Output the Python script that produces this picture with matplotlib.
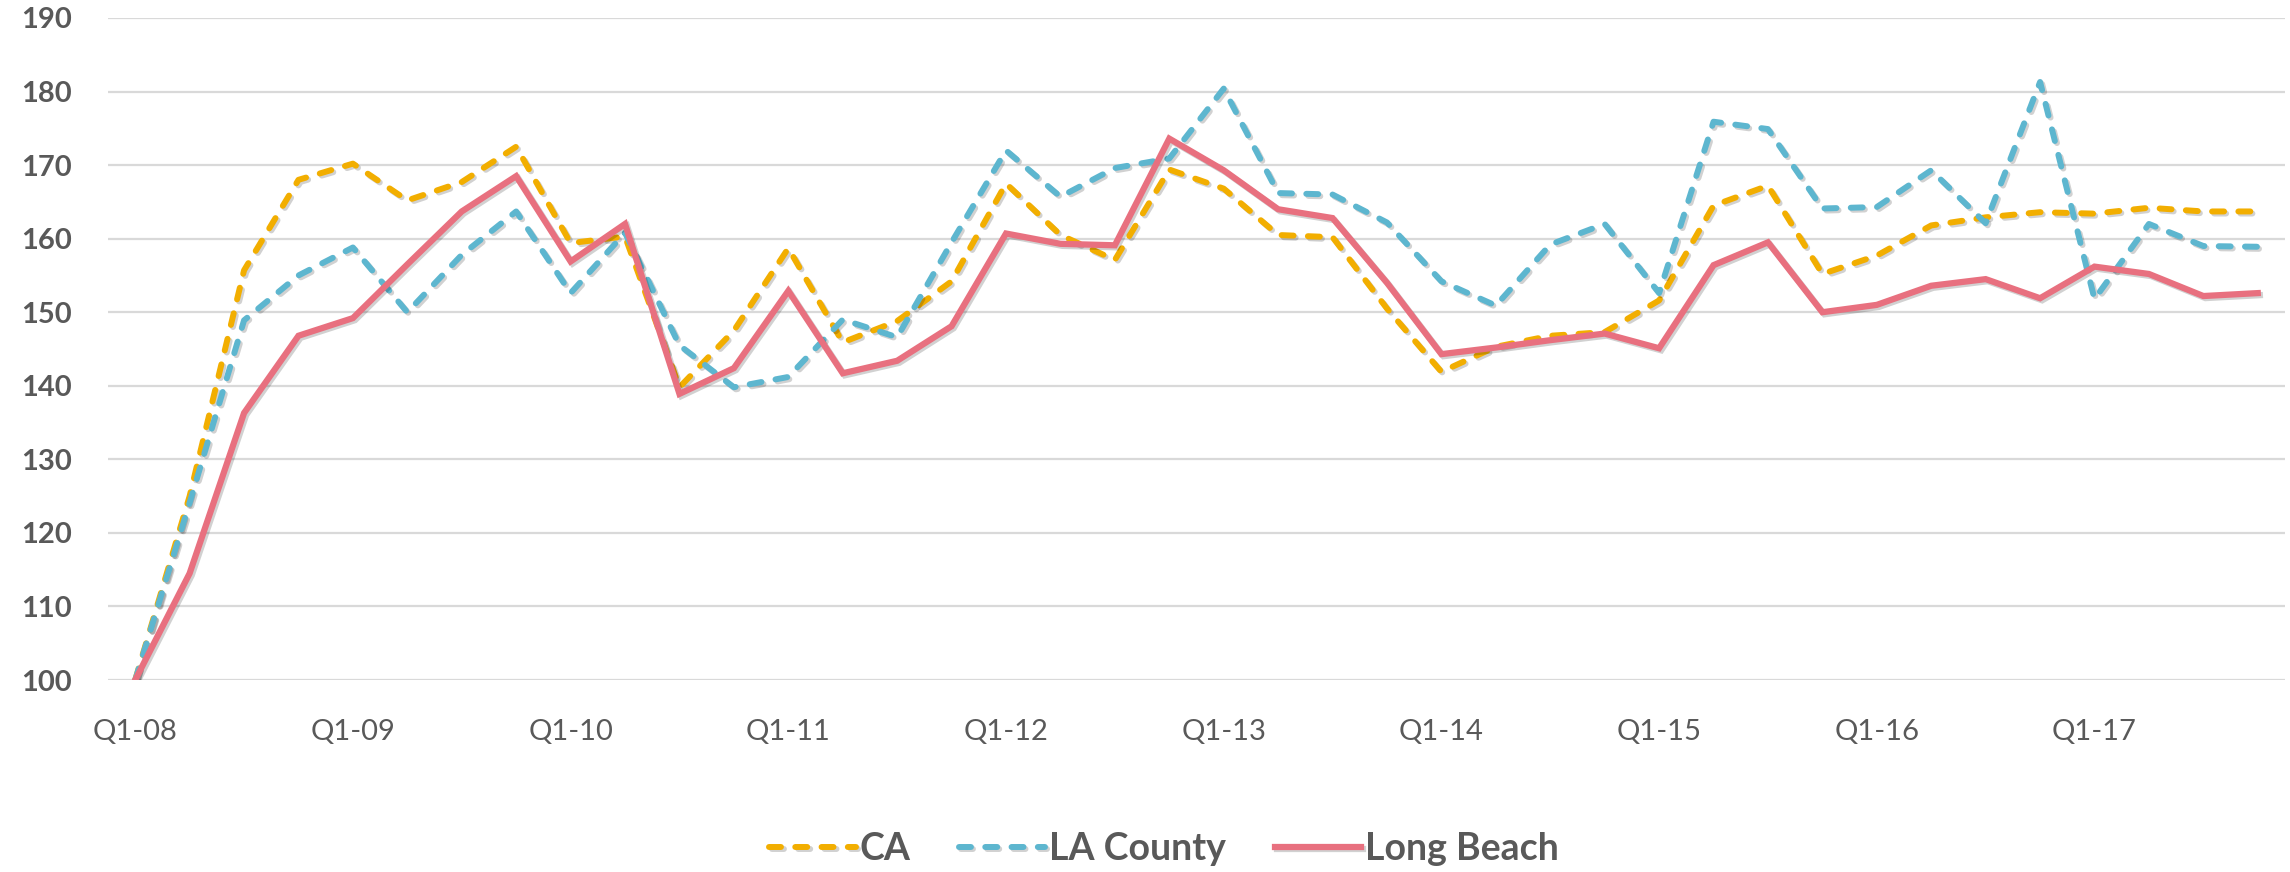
import matplotlib
matplotlib.use("Agg")
import matplotlib.pyplot as plt
import matplotlib.patheffects as pe

quarters = [f"Q{q}-{y:02d}" for y in range(8, 18) for q in range(1, 5)]
tick_labels = [f"Q1-{y:02d}" for y in range(8, 18)]

ca = [100, 125, 155.7, 168.0, 170.2, 165.2, 167.7, 172.5, 159.4, 160.3,
      139.8, 147.5, 158.7, 145.9, 148.8, 154.2, 167.5, 160.5, 157.1, 169.4,
      166.8, 160.5, 160.2, 150.5, 141.9, 145.3, 146.8, 147.3, 151.6, 164.5,
      167.2, 155.2, 157.7, 161.8, 162.9, 163.6, 163.4, 164.2, 163.7, 163.7]
la_county = [100, 124.1, 148.9, 155.0, 158.8, 150.0, 157.8, 163.7, 152.6, 160.8,
             145.5, 139.8, 141.2, 149.0, 146.6, 159.5, 172.0, 165.7, 169.6, 170.9,
             180.4, 166.2, 166.0, 162.2, 154.2, 150.9, 159.2, 162.0, 152.6, 175.9,
             174.9, 164.1, 164.3, 169.3, 162.1, 181.3, 151.8, 162.0, 159.0, 158.9]
long_beach = [100, 114.5, 136.3, 146.8, 149.2, 156.5, 163.7, 168.5, 156.9, 162.0,
              138.9, 142.4, 152.9, 141.7, 143.4, 148.1, 160.7, 159.3, 159.1, 173.6,
              169.3, 164.0, 162.8, 154.0, 144.3, 145.2, 146.2, 147.1, 145.1, 156.4,
              159.5, 150.0, 151.0, 153.6, 154.5, 151.9, 156.2, 155.2, 152.2, 152.6]

series_names = ["CA", "LA County", "Long Beach"]
colors = ["#F2AE00", "#5DB6CF", "#E8707F"]

plt.rcParams['font.family'] = ['Lato', 'DejaVu Sans']

fig = plt.figure(figsize=(22.9, 8.72), dpi=100)
ax = fig.add_axes([108 / 2290, 1 - 680 / 872, (2285 - 108) / 2290, (680 - 18) / 872])

x = list(range(len(quarters)))
shadow = [pe.SimpleLineShadow(offset=(1.5, -1.5), shadow_color='black', alpha=0.18), pe.Normal()]

for name, vals, col in zip(series_names, [ca, la_county, long_beach], colors):
    if name == "Long Beach":
        ax.plot(x, vals, color=col, lw=4.5, solid_joinstyle='miter', label=name,
                path_effects=shadow)
    else:
        ax.plot(x, vals, color=col, lw=4.3, dashes=(2.0, 2.4), dash_capstyle='round',
                label=name, path_effects=shadow)

ax.set_xlim(-0.5, len(quarters) - 0.5)
ax.set_ylim(100, 190)
ax.set_yticks(range(100, 191, 10))
ax.set_xticks([quarters.index(t) for t in tick_labels])
ax.set_xticklabels(tick_labels)

for s in ax.spines.values():
    s.set_visible(False)
ax.grid(axis='y', color='#D9D9D9', lw=1.6)
ax.set_axisbelow(True)
ax.tick_params(axis='both', length=0, colors='#595959')
ax.tick_params(axis='y', pad=26, labelsize=21)
ax.tick_params(axis='x', pad=28, labelsize=21)
for lbl in ax.get_yticklabels():
    lbl.set_fontweight('bold')

leg = fig.legend(loc='center', bbox_to_anchor=(1164 / 2290, 1 - 849 / 872), ncol=3,
                 frameon=False, handlelength=2.3, handletextpad=0.1, columnspacing=1.3,
                 prop={'family': 'Lato', 'weight': 'bold', 'size': 27})
for t in leg.get_texts():
    t.set_color('#595959')

fig.savefig("out.png", dpi=100)
